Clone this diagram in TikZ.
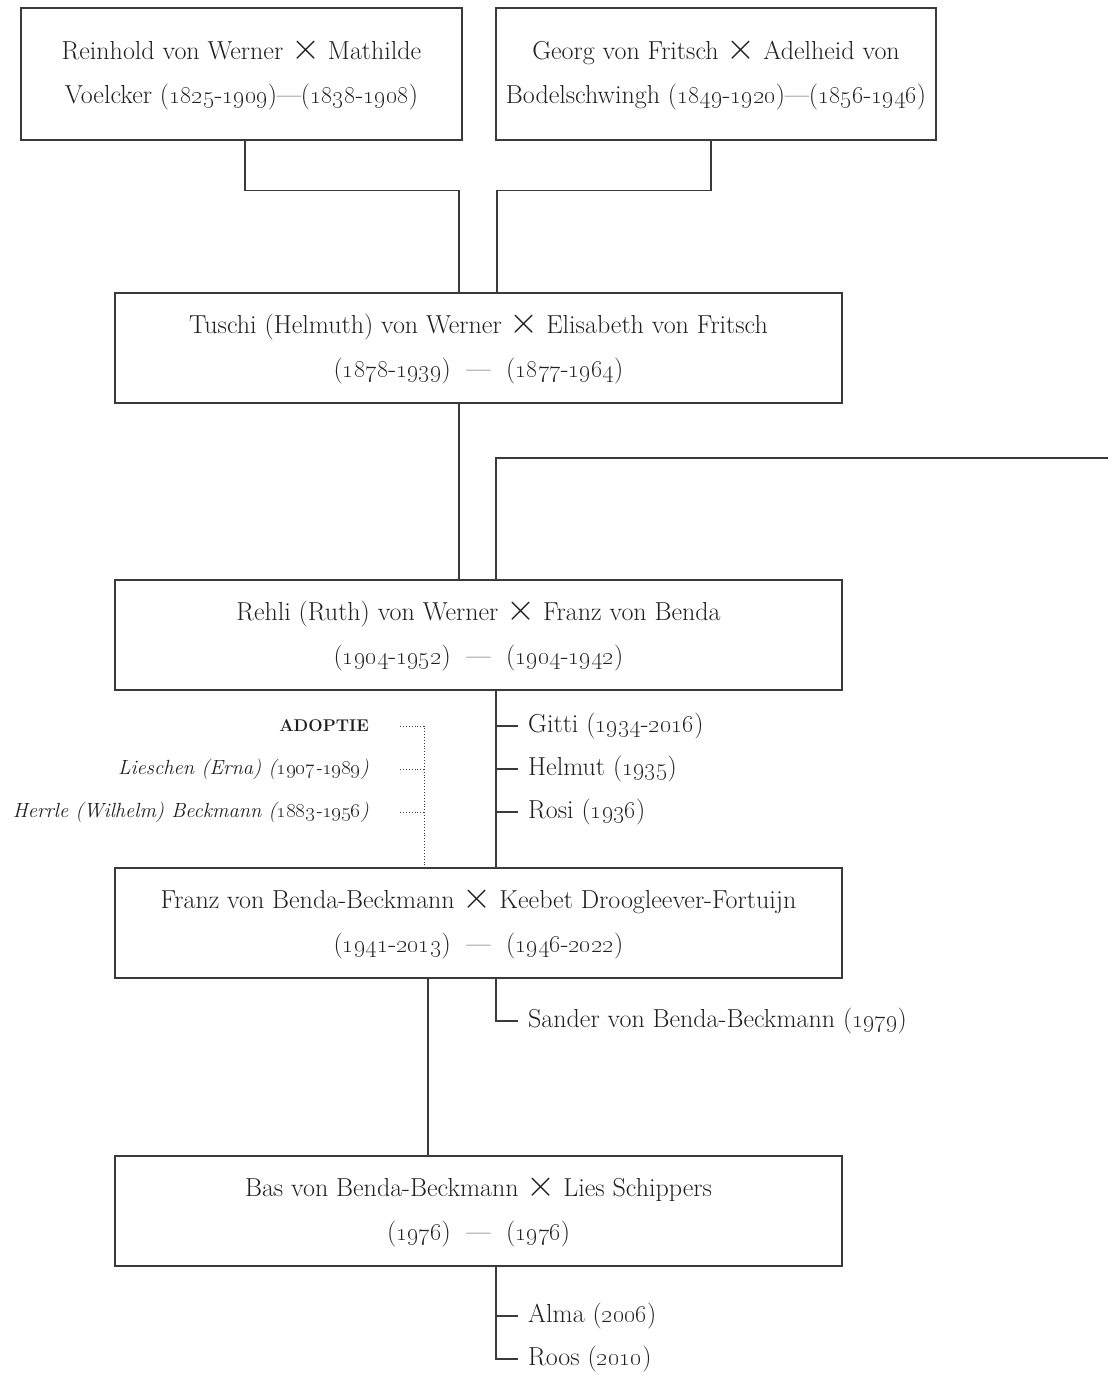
\documentclass[tikz,border=0pt]{standalone}
\usepackage{graphicx}
\definecolor{ink}{HTML}{1F1F1F}
\definecolor{linec}{HTML}{3A3A3A}
\newcommand{\fsz}{\fontsize{26}{44}\selectfont}
\newcommand{\os}[1]{\oldstylenums{#1}}
\newcommand{\Xm}{\ \scalebox{1.5}{$\times$}\ }
\begin{document}
\begin{tikzpicture}[x=1pt,y=-1pt,
  every node/.style={text=ink, font=\fsz},
  fambox/.style={draw=linec, line width=1.3pt, align=center, inner sep=0pt},
  conn/.style={draw=linec, line width=1.3pt},
  dots/.style={draw=linec, line width=0.9pt, dotted},
  kid/.style={anchor=west, inner sep=0pt},
  adopt/.style={anchor=east, inner sep=0pt, font=\fontsize{20.5}{24}\selectfont\itshape}]
\useasboundingbox (0,0) rectangle (1117,1374);
% boxes
\node[fambox, minimum width=441, minimum height=132] (b1) at (241.5,74)
  {Reinhold von Werner\Xm Mathilde\\Voelcker (\os{1825}-\os{1909})---(\os{1838}-\os{1908})};
\node[fambox, minimum width=440, minimum height=132] (b2) at (716,74)
  {Georg von Fritsch\Xm Adelheid von\\Bodelschwingh (\os{1849}-\os{1920})---(\os{1856}-\os{1946})};
\node[fambox, minimum width=727, minimum height=110] (b3) at (478.5,348)
  {Tuschi (Helmuth) von Werner\Xm Elisabeth von Fritsch\\(\os{1878}-\os{1939}) \ --- \ (\os{1877}-\os{1964})};
\node[fambox, minimum width=727, minimum height=110] (b4) at (478.5,635)
  {Rehli (Ruth) von Werner\Xm Franz von Benda\\(\os{1904}-\os{1952}) \ --- \ (\os{1904}-\os{1942})};
\node[fambox, minimum width=727, minimum height=110] (b5) at (478.5,923)
  {Franz von Benda-Beckmann\Xm Keebet Droogleever-Fortuijn\\(\os{1941}-\os{2013}) \ --- \ (\os{1946}-\os{2022})};
\node[fambox, minimum width=727, minimum height=110] (b6) at (478.5,1211)
  {Bas von Benda-Beckmann\Xm Lies Schippers\\(\os{1976}) \ --- \ (\os{1976})};
% children
\node[kid] (gitti) at (528,726) {Gitti (\os{1934}-\os{2016})};
\node[kid] (helmut) at (528,769) {Helmut (\os{1935})};
\node[kid] (rosi) at (528,812) {Rosi (\os{1936})};
\node[kid] (sander) at (528,1021) {Sander von Benda-Beckmann (\os{1979})};
\node[kid] (alma) at (528,1316) {Alma (\os{2006})};
\node[kid] (roos) at (528,1359) {Roos (\os{2010})};
% adoption
\node[anchor=east, inner sep=0pt, font=\fontsize{17}{20}\selectfont\bfseries] (adoptie) at (369,726) {ADOPTIE};
\node[adopt] (lieschen) at (369,769) {Lieschen (Erna) (\os{1907}-\os{1989})};
\node[adopt] (herrle) at (369,812) {Herrle (Wilhelm) Beckmann (\os{1883}-\os{1956})};
\coordinate (edge) at (1108,458);
% connectors
\draw[conn] ([xshift=3.5pt]b1.south) -- ++(0,50) -| ([xshift=-19.5pt]b3.north);
\draw[conn] ([xshift=-5pt]b2.south) -- ++(0,50) -| ([xshift=18.5pt]b3.north);
\draw[conn] ([xshift=-19.5pt]b3.south) -- ([xshift=-19.5pt]b4.north);
\draw[conn] ([xshift=17.5pt]b4.north) |- (edge);
\draw[conn] ([xshift=17.5pt]b4.south) -- ([xshift=17.5pt]b5.north);
\foreach \k in {gitti,helmut,rosi}
  \draw[conn] ([xshift=-10pt]\k.west) -- ([xshift=-32pt]\k.west);
\draw[conn] ([xshift=17.5pt]b5.south) |- ([xshift=-10pt]sander.west);
\draw[conn] ([xshift=-50.5pt]b5.south) -- ([xshift=-50.5pt]b6.north);
\draw[conn] ([xshift=17.5pt]b6.south) |- ([xshift=-10pt]roos.west);
\draw[conn] ([xshift=-10pt]alma.west) -- ([xshift=-32pt]alma.west);
\draw[dots] ([xshift=31pt]adoptie.east) -| ([xshift=-54.5pt]b5.north);
\draw[dots] ([xshift=31pt]lieschen.east) -- ([xshift=55pt]lieschen.east);
\draw[dots] ([xshift=31pt]herrle.east) -- ([xshift=55pt]herrle.east);
\end{tikzpicture}
\end{document}
